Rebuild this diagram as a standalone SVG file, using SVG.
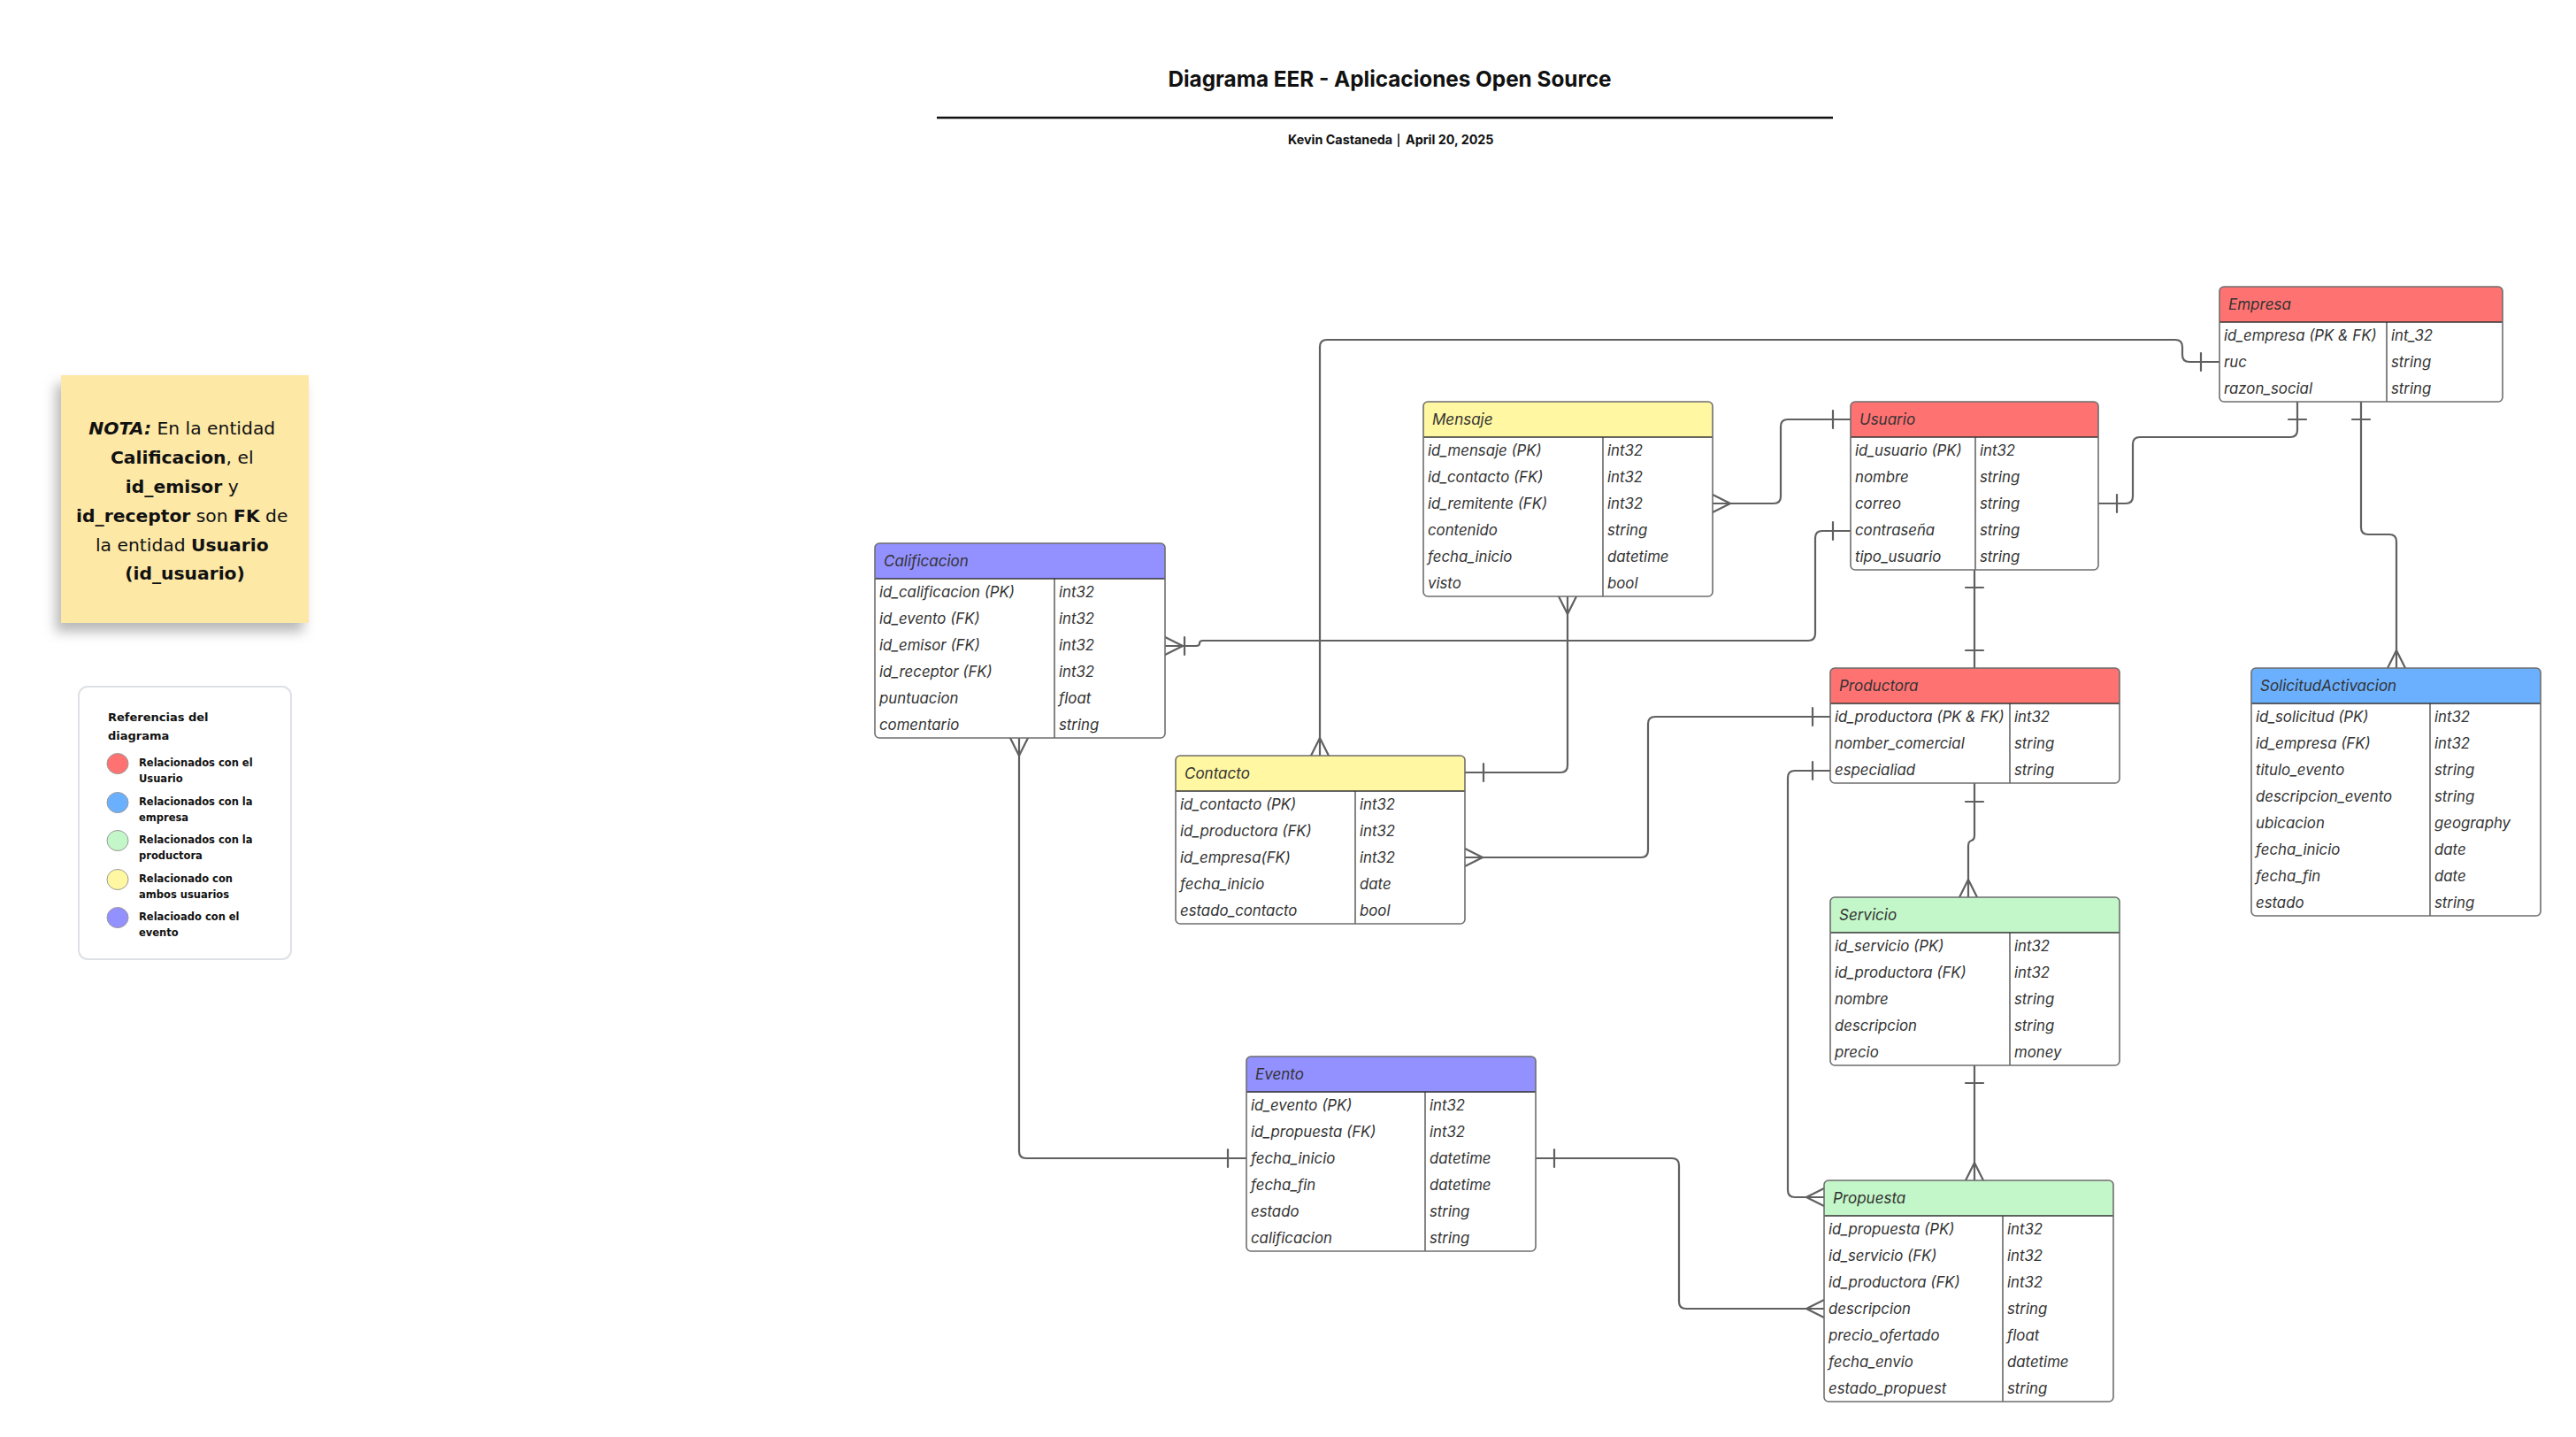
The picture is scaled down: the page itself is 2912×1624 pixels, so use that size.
<svg xmlns="http://www.w3.org/2000/svg" width="2912" height="1624" viewBox="0 0 2912 1624">
<style>
.bg{fill:#ffffff}
.ent{fill:#ffffff;stroke:none}
.frame{fill:none;stroke:#6e6e6e;stroke-width:1.6}
.hline{stroke:#333333;stroke-width:1.5}
.vline{stroke:#333333;stroke-width:1.2}
.red{fill:#FF7272}
.yel{fill:#FFF7A1}
.pur{fill:#9391FF}
.blu{fill:#6BB0FF}
.grn{fill:#C3F6C8}
.ttl{font-family:Inter,"Liberation Sans",sans-serif;font-style:italic;font-size:17px;fill:#333333}
.row{font-family:Inter,"Liberation Sans",sans-serif;font-style:italic;font-size:16.8px;fill:#333333}
.conn path{fill:none;stroke:#606060;stroke-width:2.2;stroke-linecap:round;stroke-linejoin:round}
.note{font-family:"DejaVu Sans",sans-serif;font-size:20.3px;fill:#111111}
.leg{font-family:"DejaVu Sans",sans-serif;font-weight:bold;font-size:11.5px;fill:#111111}
.legh{font-family:"DejaVu Sans",sans-serif;font-weight:bold;font-size:13px;fill:#111111}
.dot{stroke:#9a9a9a;stroke-width:1}
</style>
<defs>
<filter id="shadow" x="-30%" y="-30%" width="160%" height="170%">
<feDropShadow dx="-6" dy="10" stdDeviation="7" flood-color="#000000" flood-opacity="0.28"/>
</filter>
</defs>
<rect class="bg" x="0" y="0" width="2912" height="1624"/>

<g id="title">
<text x="1571" y="98" text-anchor="middle" font-family="Inter,'Liberation Sans',sans-serif" font-weight="bold" font-size="24.3" fill="#111111">Diagrama EER - Aplicaciones Open Source</text>
<line x1="1059" y1="133" x2="2072" y2="133" stroke="#111111" stroke-width="2.5"/>
<text x="1574" y="163" text-anchor="end" font-family="Inter,'Liberation Sans',sans-serif" font-weight="bold" font-size="14.3" fill="#111111">Kevin Castaneda</text>
<line x1="1581" y1="151" x2="1581" y2="166" stroke="#111111" stroke-width="1.5"/>
<text x="1589" y="163" font-family="Inter,'Liberation Sans',sans-serif" font-weight="bold" font-size="14.3" fill="#111111">April 20, 2025</text>
</g>

<g id="nota">
<rect x="69" y="424" width="280" height="280" fill="#FDE8A6" filter="url(#shadow)"/>
<text class="note" text-anchor="middle">
<tspan x="209" y="491"><tspan font-weight="bold" font-style="italic">NOTA:</tspan> En la entidad</tspan>
<tspan x="209" y="524"><tspan font-weight="bold">Calificacion</tspan>, el</tspan>
<tspan x="209" y="557"><tspan font-weight="bold">id_emisor</tspan> y</tspan>
<tspan x="209" y="590"><tspan font-weight="bold">id_receptor</tspan> son <tspan font-weight="bold">FK</tspan> de</tspan>
<tspan x="209" y="623">la entidad <tspan font-weight="bold">Usuario</tspan></tspan>
<tspan x="209" y="655" font-weight="bold">(id_usuario)</tspan>
</text>
</g>

<g id="leyenda">
<rect x="89" y="776" width="240" height="308" rx="10" fill="#ffffff" stroke="#DDE1E6" stroke-width="2"/>
<text class="legh"><tspan x="122" y="815">Referencias del</tspan><tspan x="122" y="836">diagrama</tspan></text>
<ellipse class="dot" cx="133" cy="863" rx="12" ry="11.5" fill="#FF7272"/>
<text class="leg"><tspan x="157" y="866">Relacionados con el</tspan><tspan x="157" y="884">Usuario</tspan></text>
<ellipse class="dot" cx="133" cy="907" rx="12" ry="11.5" fill="#6BB0FF"/>
<text class="leg"><tspan x="157" y="910">Relacionados con la</tspan><tspan x="157" y="928">empresa</tspan></text>
<ellipse class="dot" cx="133" cy="950" rx="12" ry="11.5" fill="#C3F6C8"/>
<text class="leg"><tspan x="157" y="953">Relacionados con la</tspan><tspan x="157" y="971">productora</tspan></text>
<ellipse class="dot" cx="133" cy="994" rx="12" ry="11.5" fill="#FFF7A1"/>
<text class="leg"><tspan x="157" y="997">Relacionado con</tspan><tspan x="157" y="1015">ambos usuarios</tspan></text>
<ellipse class="dot" cx="133" cy="1037" rx="12" ry="11.5" fill="#9391FF"/>
<text class="leg"><tspan x="157" y="1040">Relacioado con el</tspan><tspan x="157" y="1058">evento</tspan></text>
</g>

<g id="connectors" class="conn">
<!-- Empresa ruc -> Contacto -->
<path d="M2509,409 H2475 Q2467,409 2467,401 V392 Q2467,384 2459,384 H1500 Q1492,384 1492,392 V854"/>
<path d="M2488,399 V419"/>
<path d="M1482,854 L1492,834 L1502,854"/>
<!-- Mensaje -> Usuario -->
<path d="M1936,569 H2005 Q2013,569 2013,561 V482 Q2013,474 2021,474 H2092"/>
<path d="M2072,464 V484"/>
<path d="M1936,559 L1956,569 L1936,579"/>
<!-- Usuario -> Empresa -->
<path d="M2372,569 H2403 Q2411,569 2411,561 V502 Q2411,494 2419,494 H2589 Q2597,494 2597,486 V454"/>
<path d="M2393,559 V579"/>
<path d="M2587,474 H2607"/>
<!-- Empresa -> SolicitudActivacion -->
<path d="M2669,454 V596 Q2669,604 2677,604 H2701 Q2709,604 2709,612 V755"/>
<path d="M2659,474 H2679"/>
<path d="M2699,755 L2709,735 L2719,755"/>
<!-- Usuario -> Calificacion -->
<path d="M2092,600 H2060 Q2052,600 2052,608 V716 Q2052,724 2044,724 H1360 Q1356,724 1356,727 Q1356,730 1352,730 H1317"/>
<path d="M2072,590 V610"/>
<path d="M1317,720 L1337,730 L1317,740"/>
<path d="M1339,720 V740"/>
<!-- Mensaje -> Contacto -->
<path d="M1772,674 V865 Q1772,873 1764,873 H1656"/>
<path d="M1762,674 L1772,694 L1782,674"/>
<path d="M1677,863 V883"/>
<!-- Contacto -> Productora -->
<path d="M1656,969 H1855 Q1863,969 1863,961 V818 Q1863,810 1871,810 H2069"/>
<path d="M1656,959 L1676,969 L1656,979"/>
<path d="M2049,800 V820"/>
<!-- Usuario -> Productora -->
<path d="M2232,644 V755"/>
<path d="M2222,664 H2242"/>
<path d="M2222,735 H2242"/>
<!-- Productora -> Servicio -->
<path d="M2232,885 V944 Q2232,949 2228.5,950 Q2225,951 2225,956 V1014"/>
<path d="M2222,906 H2242"/>
<path d="M2215,1014 L2225,994 L2235,1014"/>
<!-- Servicio -> Propuesta -->
<path d="M2232,1204 V1334"/>
<path d="M2222,1224 H2242"/>
<path d="M2222,1334 L2232,1314 L2242,1334"/>
<!-- Productora -> Propuesta -->
<path d="M2069,871 H2029 Q2021,871 2021,879 V1345 Q2021,1353 2029,1353 H2062"/>
<path d="M2049,861 V881"/>
<path d="M2062,1343 L2042,1353 L2062,1363"/>
<!-- Calificacion -> Evento -->
<path d="M1152,834 V1301 Q1152,1309 1160,1309 H1409"/>
<path d="M1142,834 L1152,854 L1162,834"/>
<path d="M1388,1299 V1319"/>
<!-- Evento -> Propuesta -->
<path d="M1736,1309 H1890 Q1898,1309 1898,1317 V1471 Q1898,1479 1906,1479 H2062"/>
<path d="M1757,1299 V1319"/>
<path d="M2062,1469 L2042,1479 L2062,1489"/>
</g>

<g id="empresa" transform="translate(2509,324)">
<rect class="ent" width="320" height="130" rx="5"/>
<path class="red" d="M0,40 V5 Q0,0 5,0 H315 Q320,0 320,5 V40 Z"/>
<line class="hline" x1="0" y1="40" x2="320" y2="40"/>
<line class="vline" x1="189" y1="40" x2="189" y2="130"/>
<rect class="frame" width="320" height="130" rx="5"/>
<text class="ttl" x="10" y="26">Empresa</text>
<text class="row" x="5" y="61">id_empresa (PK &amp; FK)</text><text class="row" x="194" y="61">int_32</text>
<text class="row" x="5" y="91">ruc</text><text class="row" x="194" y="91">string</text>
<text class="row" x="5" y="121">razon_social</text><text class="row" x="194" y="121">string</text>
</g>

<g id="mensaje" transform="translate(1609,454)">
<rect class="ent" width="327" height="220" rx="5"/>
<path class="yel" d="M0,40 V5 Q0,0 5,0 H322 Q327,0 327,5 V40 Z"/>
<line class="hline" x1="0" y1="40" x2="327" y2="40"/>
<line class="vline" x1="203" y1="40" x2="203" y2="220"/>
<rect class="frame" width="327" height="220" rx="5"/>
<text class="ttl" x="10" y="26">Mensaje</text>
<text class="row" x="5" y="61">id_mensaje (PK)</text><text class="row" x="208" y="61">int32</text>
<text class="row" x="5" y="91">id_contacto (FK)</text><text class="row" x="208" y="91">int32</text>
<text class="row" x="5" y="121">id_remitente (FK)</text><text class="row" x="208" y="121">int32</text>
<text class="row" x="5" y="151">contenido</text><text class="row" x="208" y="151">string</text>
<text class="row" x="5" y="181">fecha_inicio</text><text class="row" x="208" y="181">datetime</text>
<text class="row" x="5" y="211">visto</text><text class="row" x="208" y="211">bool</text>
</g>

<g id="usuario" transform="translate(2092,454)">
<rect class="ent" width="280" height="190" rx="5"/>
<path class="red" d="M0,40 V5 Q0,0 5,0 H275 Q280,0 280,5 V40 Z"/>
<line class="hline" x1="0" y1="40" x2="280" y2="40"/>
<line class="vline" x1="141" y1="40" x2="141" y2="190"/>
<rect class="frame" width="280" height="190" rx="5"/>
<text class="ttl" x="10" y="26">Usuario</text>
<text class="row" x="5" y="61">id_usuario (PK)</text><text class="row" x="146" y="61">int32</text>
<text class="row" x="5" y="91">nombre</text><text class="row" x="146" y="91">string</text>
<text class="row" x="5" y="121">correo</text><text class="row" x="146" y="121">string</text>
<text class="row" x="5" y="151">contraseña</text><text class="row" x="146" y="151">string</text>
<text class="row" x="5" y="181">tipo_usuario</text><text class="row" x="146" y="181">string</text>
</g>

<g id="calificacion" transform="translate(989,614)">
<rect class="ent" width="328" height="220" rx="5"/>
<path class="pur" d="M0,40 V5 Q0,0 5,0 H323 Q328,0 328,5 V40 Z"/>
<line class="hline" x1="0" y1="40" x2="328" y2="40"/>
<line class="vline" x1="203" y1="40" x2="203" y2="220"/>
<rect class="frame" width="328" height="220" rx="5"/>
<text class="ttl" x="10" y="26">Calificacion</text>
<text class="row" x="5" y="61">id_calificacion (PK)</text><text class="row" x="208" y="61">int32</text>
<text class="row" x="5" y="91">id_evento (FK)</text><text class="row" x="208" y="91">int32</text>
<text class="row" x="5" y="121">id_emisor (FK)</text><text class="row" x="208" y="121">int32</text>
<text class="row" x="5" y="151">id_receptor (FK)</text><text class="row" x="208" y="151">int32</text>
<text class="row" x="5" y="181">puntuacion</text><text class="row" x="208" y="181">float</text>
<text class="row" x="5" y="211">comentario</text><text class="row" x="208" y="211">string</text>
</g>

<g id="contacto" transform="translate(1329,854)">
<rect class="ent" width="327" height="190" rx="5"/>
<path class="yel" d="M0,40 V5 Q0,0 5,0 H322 Q327,0 327,5 V40 Z"/>
<line class="hline" x1="0" y1="40" x2="327" y2="40"/>
<line class="vline" x1="203" y1="40" x2="203" y2="190"/>
<rect class="frame" width="327" height="190" rx="5"/>
<text class="ttl" x="10" y="26">Contacto</text>
<text class="row" x="5" y="61">id_contacto (PK)</text><text class="row" x="208" y="61">int32</text>
<text class="row" x="5" y="91">id_productora (FK)</text><text class="row" x="208" y="91">int32</text>
<text class="row" x="5" y="121">id_empresa(FK)</text><text class="row" x="208" y="121">int32</text>
<text class="row" x="5" y="151">fecha_inicio</text><text class="row" x="208" y="151">date</text>
<text class="row" x="5" y="181">estado_contacto</text><text class="row" x="208" y="181">bool</text>
</g>

<g id="productora" transform="translate(2069,755)">
<rect class="ent" width="327" height="130" rx="5"/>
<path class="red" d="M0,40 V5 Q0,0 5,0 H322 Q327,0 327,5 V40 Z"/>
<line class="hline" x1="0" y1="40" x2="327" y2="40"/>
<line class="vline" x1="203" y1="40" x2="203" y2="130"/>
<rect class="frame" width="327" height="130" rx="5"/>
<text class="ttl" x="10" y="26">Productora</text>
<text class="row" x="5" y="61">id_productora (PK &amp; FK)</text><text class="row" x="208" y="61">int32</text>
<text class="row" x="5" y="91">nomber_comercial</text><text class="row" x="208" y="91">string</text>
<text class="row" x="5" y="121">especialiad</text><text class="row" x="208" y="121">string</text>
</g>

<g id="solicitudactivacion" transform="translate(2545,755)">
<rect class="ent" width="327" height="280" rx="5"/>
<path class="blu" d="M0,40 V5 Q0,0 5,0 H322 Q327,0 327,5 V40 Z"/>
<line class="hline" x1="0" y1="40" x2="327" y2="40"/>
<line class="vline" x1="202" y1="40" x2="202" y2="280"/>
<rect class="frame" width="327" height="280" rx="5"/>
<text class="ttl" x="10" y="26">SolicitudActivacion</text>
<text class="row" x="5" y="61">id_solicitud (PK)</text><text class="row" x="207" y="61">int32</text>
<text class="row" x="5" y="91">id_empresa (FK)</text><text class="row" x="207" y="91">int32</text>
<text class="row" x="5" y="121">titulo_evento</text><text class="row" x="207" y="121">string</text>
<text class="row" x="5" y="151">descripcion_evento</text><text class="row" x="207" y="151">string</text>
<text class="row" x="5" y="181">ubicacion</text><text class="row" x="207" y="181">geography</text>
<text class="row" x="5" y="211">fecha_inicio</text><text class="row" x="207" y="211">date</text>
<text class="row" x="5" y="241">fecha_fin</text><text class="row" x="207" y="241">date</text>
<text class="row" x="5" y="271">estado</text><text class="row" x="207" y="271">string</text>
</g>

<g id="servicio" transform="translate(2069,1014)">
<rect class="ent" width="327" height="190" rx="5"/>
<path class="grn" d="M0,40 V5 Q0,0 5,0 H322 Q327,0 327,5 V40 Z"/>
<line class="hline" x1="0" y1="40" x2="327" y2="40"/>
<line class="vline" x1="203" y1="40" x2="203" y2="190"/>
<rect class="frame" width="327" height="190" rx="5"/>
<text class="ttl" x="10" y="26">Servicio</text>
<text class="row" x="5" y="61">id_servicio (PK)</text><text class="row" x="208" y="61">int32</text>
<text class="row" x="5" y="91">id_productora (FK)</text><text class="row" x="208" y="91">int32</text>
<text class="row" x="5" y="121">nombre</text><text class="row" x="208" y="121">string</text>
<text class="row" x="5" y="151">descripcion</text><text class="row" x="208" y="151">string</text>
<text class="row" x="5" y="181">precio</text><text class="row" x="208" y="181">money</text>
</g>

<g id="evento" transform="translate(1409,1194)">
<rect class="ent" width="327" height="220" rx="5"/>
<path class="pur" d="M0,40 V5 Q0,0 5,0 H322 Q327,0 327,5 V40 Z"/>
<line class="hline" x1="0" y1="40" x2="327" y2="40"/>
<line class="vline" x1="202" y1="40" x2="202" y2="220"/>
<rect class="frame" width="327" height="220" rx="5"/>
<text class="ttl" x="10" y="26">Evento</text>
<text class="row" x="5" y="61">id_evento (PK)</text><text class="row" x="207" y="61">int32</text>
<text class="row" x="5" y="91">id_propuesta (FK)</text><text class="row" x="207" y="91">int32</text>
<text class="row" x="5" y="121">fecha_inicio</text><text class="row" x="207" y="121">datetime</text>
<text class="row" x="5" y="151">fecha_fin</text><text class="row" x="207" y="151">datetime</text>
<text class="row" x="5" y="181">estado</text><text class="row" x="207" y="181">string</text>
<text class="row" x="5" y="211">calificacion</text><text class="row" x="207" y="211">string</text>
</g>

<g id="propuesta" transform="translate(2062,1334)">
<rect class="ent" width="327" height="250" rx="5"/>
<path class="grn" d="M0,40 V5 Q0,0 5,0 H322 Q327,0 327,5 V40 Z"/>
<line class="hline" x1="0" y1="40" x2="327" y2="40"/>
<line class="vline" x1="202" y1="40" x2="202" y2="250"/>
<rect class="frame" width="327" height="250" rx="5"/>
<text class="ttl" x="10" y="26">Propuesta</text>
<text class="row" x="5" y="61">id_propuesta (PK)</text><text class="row" x="207" y="61">int32</text>
<text class="row" x="5" y="91">id_servicio (FK)</text><text class="row" x="207" y="91">int32</text>
<text class="row" x="5" y="121">id_productora (FK)</text><text class="row" x="207" y="121">int32</text>
<text class="row" x="5" y="151">descripcion</text><text class="row" x="207" y="151">string</text>
<text class="row" x="5" y="181">precio_ofertado</text><text class="row" x="207" y="181">float</text>
<text class="row" x="5" y="211">fecha_envio</text><text class="row" x="207" y="211">datetime</text>
<text class="row" x="5" y="241">estado_propuest</text><text class="row" x="207" y="241">string</text>
</g>
</svg>
